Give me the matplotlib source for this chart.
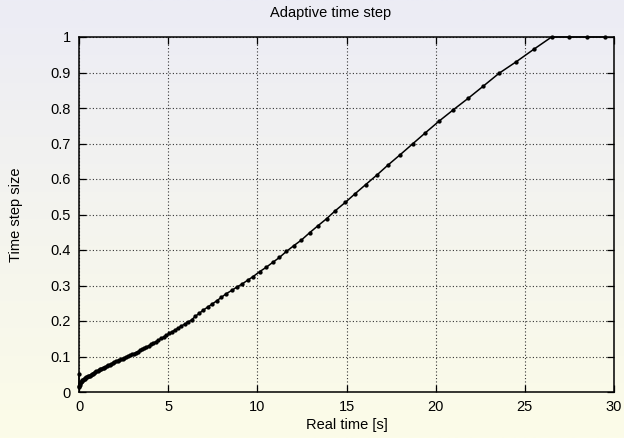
import matplotlib
matplotlib.use("Agg")
import matplotlib.pyplot as plt
import numpy as np
from matplotlib.colors import LinearSegmentedColormap

# real time [s] and time step size
real_time = [
    0.00, 0.00, 0.02, 0.04, 0.06, 0.09, 0.12, 0.15, 0.19, 0.23, 0.27, 0.31, 0.35,
    0.39, 0.44, 0.49, 0.54, 0.59, 0.65, 0.71, 0.77, 0.83, 0.90, 0.97, 1.04, 1.11,
    1.18, 1.25, 1.32, 1.40, 1.48, 1.56, 1.64, 1.72, 1.80, 1.89, 1.98, 2.07, 2.16,
    2.25, 2.35, 2.45, 2.55, 2.65, 2.75, 2.86, 2.97, 3.08, 3.19, 3.30, 3.42, 3.54,
    3.66, 3.78, 3.91, 4.04, 4.17, 4.31, 4.45, 4.60, 4.75, 4.90, 5.06, 5.22, 5.39,
    5.56, 5.74, 5.92, 6.11, 6.31, 6.52, 6.75, 6.98, 7.21, 7.47, 7.73, 7.99, 8.26,
    8.56, 8.86, 9.14, 9.46, 9.76, 10.13, 10.49, 10.86, 11.24, 11.63, 12.04, 12.47,
    12.94, 13.39, 13.88, 14.38, 14.93, 15.47, 16.07, 16.70, 17.32, 18.00, 18.71,
    19.42, 20.19, 20.99, 21.84, 22.68, 23.56, 24.51, 25.49, 26.50, 27.50, 28.50,
    29.50,
]
step_size = [
    0.050, 0.013, 0.018, 0.021, 0.024, 0.027, 0.029, 0.031, 0.033, 0.035, 0.036,
    0.038, 0.039, 0.041, 0.042, 0.044, 0.045, 0.046, 0.048, 0.050, 0.052, 0.054,
    0.056, 0.058, 0.060, 0.062, 0.064, 0.066, 0.067, 0.069, 0.071, 0.073, 0.075,
    0.077, 0.079, 0.082, 0.084, 0.086, 0.088, 0.090, 0.092, 0.094, 0.096, 0.099,
    0.101, 0.103, 0.106, 0.108, 0.111, 0.114, 0.117, 0.120, 0.123, 0.127, 0.130,
    0.134, 0.138, 0.142, 0.146, 0.151, 0.155, 0.160, 0.165, 0.170, 0.175, 0.180,
    0.186, 0.191, 0.197, 0.203, 0.213, 0.222, 0.231, 0.239, 0.248, 0.257, 0.267,
    0.277, 0.286, 0.296, 0.304, 0.315, 0.325, 0.339, 0.351, 0.365, 0.379, 0.396,
    0.412, 0.428, 0.449, 0.468, 0.488, 0.511, 0.534, 0.558, 0.584, 0.611, 0.639,
    0.668, 0.699, 0.730, 0.763, 0.795, 0.828, 0.862, 0.898, 0.930, 0.965, 1.000,
    1.000, 1.000, 1.000,
]
x_ticks = [0, 5, 10, 15, 20, 25, 30]
y_ticks = [0, 0.1, 0.2, 0.3, 0.4, 0.5, 0.6, 0.7, 0.8, 0.9, 1]
y_tick_labels = ["0", "0.1", "0.2", "0.3", "0.4", "0.5", "0.6", "0.7", "0.8", "0.9", "1"]

plt.rcParams["font.family"] = ["Liberation Sans", "DejaVu Sans"]
plt.rcParams["font.size"] = 10.5

fig = plt.figure(figsize=(6.24, 4.38), dpi=100)

# background gradient: lavender at the top, pale yellow at the bottom
bg = fig.add_axes([0, 0, 1, 1], zorder=-10)
cmap = LinearSegmentedColormap.from_list("bg", ["#fcfce8", "#ececf5"])
bg.imshow(np.linspace(0, 1, 256).reshape(-1, 1), aspect="auto", cmap=cmap,
          origin="lower", extent=[0, 1, 0, 1])
bg.set_axis_off()

ax = fig.add_axes([79 / 624, 1 - 392 / 438, 535 / 624, 355 / 438])
ax.patch.set_alpha(0)

ax.plot(real_time, step_size, color="black", linewidth=1.1, marker="o",
        markersize=3.1, markeredgewidth=0, clip_on=False, zorder=3)

ax.set_xlim(0, 30)
ax.set_ylim(0, 1)
ax.set_xticks(x_ticks)
ax.set_yticks(y_ticks)
ax.set_yticklabels(y_tick_labels)
ax.tick_params(direction="in", length=5, width=0.9, top=True, right=True,
               labelsize=10.5, pad=6, colors="black")
ax.grid(True, color="#333333", linestyle=(0, (1, 2)), linewidth=0.8)
for sp in ax.spines.values():
    sp.set_linewidth(1.1)
    sp.set_color("black")

ax.set_xlabel("Real time [s]", fontsize=10.5, labelpad=3)
ax.set_ylabel("Time step size", fontsize=10.5, labelpad=20)
fig.text(331 / 624, 1 - 13 / 438, "Adaptive time step", ha="center", va="center",
         fontsize=10.5)

fig.savefig("out.png", dpi=100)
